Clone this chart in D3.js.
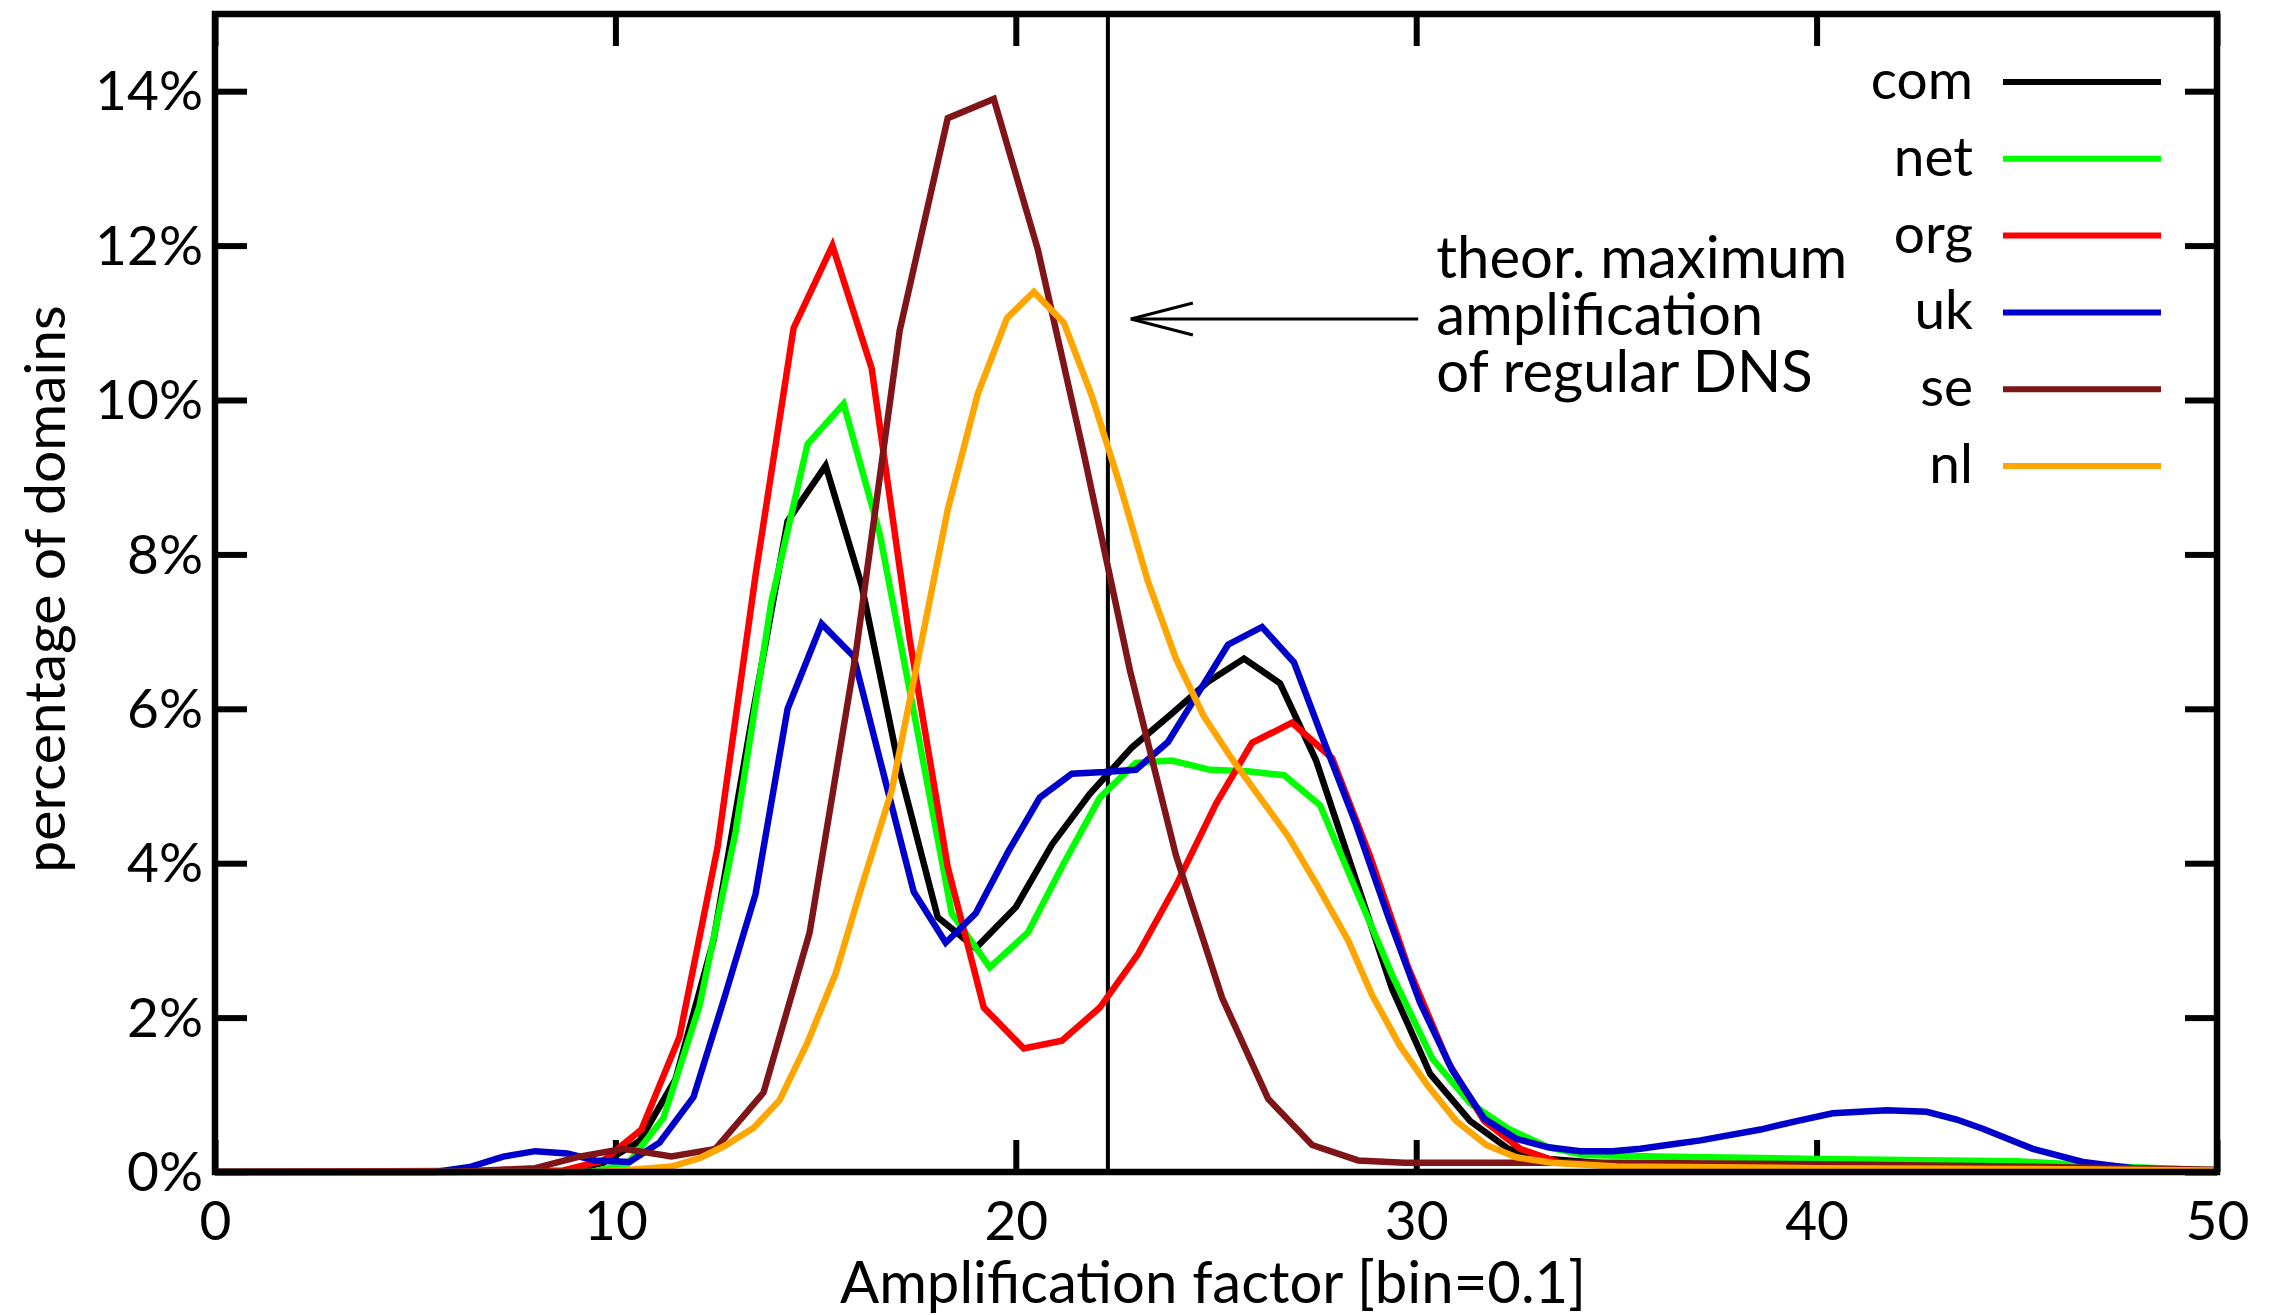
<!DOCTYPE html>
<html>
<head>
<meta charset="utf-8">
<script src="https://cdn.jsdelivr.net/npm/d3@7"></script>
<style>
  body { margin: 0; background: #fff; }
  svg text { font-family: Lato, "Open Sans", sans-serif; fill: #000; }
</style>
</head>
<body>
<svg id="chart" width="2280" height="1315"></svg>
<script>
// amplification factor histogram, one series per TLD
const seriesNames = ["com", "net", "org", "uk", "se", "nl"];
const seriesColors = ["#000000", "#00ff00", "#ff0000", "#0000cc", "#7f1518", "#ffa500"];

const com = [[0,0],[8.7,0],[9.7,0.12],[10.6,0.4],[11.5,1.2],[12.45,3.0],[13.35,5.7],[14.3,8.43],[15.25,9.15],[16.15,7.6],[17.1,5.2],[18.05,3.3],[19.0,2.9],[20.0,3.43],[20.9,4.24],[21.85,4.9],[22.9,5.5],[23.9,5.94],[24.8,6.35],[25.7,6.65],[26.6,6.33],[27.5,5.33],[28.4,3.93],[29.4,2.37],[30.35,1.27],[31.35,0.66],[32.3,0.3],[33.3,0.17],[35,0.1],[40,0.07],[45,0.05],[50,0.02]];
const net = [[0,0],[9.4,0],[10.3,0.1],[11.2,0.7],[12.1,2.15],[13.0,4.4],[13.9,7.4],[14.8,9.43],[15.7,9.95],[16.6,8.27],[17.5,5.83],[18.4,3.35],[19.35,2.65],[20.3,3.1],[21.2,4.0],[22.1,4.85],[23.0,5.3],[23.9,5.33],[24.85,5.21],[25.8,5.19],[26.7,5.14],[27.6,4.75],[28.5,3.65],[29.4,2.55],[30.4,1.47],[31.35,0.89],[32.3,0.56],[33.3,0.32],[34.2,0.22],[36,0.2],[40,0.17],[45,0.14],[47,0.08],[50,0.02]];
const org = [[0,0],[8.7,0.02],[9.7,0.15],[10.65,0.55],[11.6,1.75],[12.55,4.2],[13.5,7.73],[14.45,10.93],[15.42,12.0],[16.4,10.41],[17.35,6.9],[18.3,3.95],[19.2,2.13],[20.2,1.6],[21.15,1.7],[22.1,2.13],[23.05,2.82],[24.0,3.71],[25.0,4.77],[25.9,5.56],[26.9,5.82],[27.9,5.36],[28.85,4.09],[29.8,2.65],[30.8,1.42],[31.7,0.66],[32.6,0.3],[33.6,0.12],[35,0.09],[40,0.06],[45,0.04],[50,0.01]];
const uk = [[0,0],[5.5,0],[6.4,0.07],[7.2,0.2],[8.0,0.27],[8.8,0.24],[9.5,0.15],[10.35,0.13],[11.1,0.38],[11.95,0.97],[12.7,2.22],[13.5,3.6],[14.3,6.0],[15.15,7.1],[15.95,6.68],[16.7,5.15],[17.45,3.63],[18.25,2.97],[19.0,3.35],[19.8,4.14],[20.6,4.85],[21.4,5.16],[22.2,5.18],[23.0,5.21],[23.8,5.57],[24.55,6.2],[25.3,6.83],[26.15,7.06],[26.95,6.6],[27.7,5.57],[28.5,4.5],[29.3,3.31],[30.1,2.19],[30.9,1.32],[31.7,0.69],[32.5,0.43],[33.3,0.32],[34.1,0.27],[34.9,0.27],[35.6,0.3],[36.4,0.36],[37.1,0.41],[38.6,0.55],[39.5,0.66],[40.4,0.76],[41.75,0.8],[42.75,0.78],[43.5,0.68],[44.15,0.56],[45.4,0.3],[46.65,0.13],[47.9,0.05],[50,0]];
const se = [[0,0],[6.0,0],[8.0,0.05],[9.1,0.2],[10.2,0.3],[11.4,0.2],[12.5,0.3],[13.7,1.03],[14.85,3.1],[16.0,6.7],[17.1,10.9],[18.3,13.65],[19.45,13.9],[20.55,11.95],[21.7,9.3],[22.85,6.5],[24.0,4.1],[25.15,2.26],[26.3,0.95],[27.4,0.35],[28.55,0.15],[29.7,0.12],[35,0.12],[40,0.1],[45,0.07],[50,0.03]];
const nl = [[0,0],[9.6,0],[10.4,0.03],[11.4,0.07],[12.1,0.18],[12.7,0.33],[13.45,0.57],[14.1,0.93],[14.8,1.68],[15.5,2.57],[16.2,3.78],[16.9,4.94],[17.6,6.75],[18.3,8.58],[19.05,10.08],[19.78,11.06],[20.45,11.4],[21.2,11.0],[21.9,10.05],[22.6,8.9],[23.3,7.65],[24.0,6.65],[24.7,5.9],[25.4,5.35],[26.1,4.85],[26.8,4.35],[27.5,3.74],[28.3,3.0],[28.9,2.29],[29.6,1.63],[30.3,1.11],[31.0,0.66],[31.75,0.35],[32.5,0.19],[33.4,0.12],[35,0.07],[40,0.05],[45,0.04],[50,0.02]];
const seriesData = [com, net, org, uk, se, nl];

const xTicks = [0, 10, 20, 30, 40, 50];
const yTicks = [0, 2, 4, 6, 8, 10, 12, 14];
const theorMax = 22.3;
const noteLines = ["theor. maximum", "amplification", "of regular DNS"];

const W = 2280, H = 1315;
const margin = {top: 14, right: 63, bottom: 143, left: 215};
const fs = 55;   // tick + legend labels
const fsT = 58;  // titles + note

let svg = d3.select("#chart");

let x = d3.scaleLinear().domain([0, 50]).range([margin.left, W - margin.right]);
let y = d3.scaleLinear().domain([0, 15]).range([H - margin.bottom, margin.top]);

let tickLen = 32;

// axes: ticks inside the frame, mirrored
svg.append("g")
  .attr("transform", `translate(0,${y(0)})`)
  .call(d3.axisBottom(x).tickValues(xTicks).tickSizeInner(-tickLen).tickSizeOuter(0).tickPadding(16))
  .call(g => g.select(".domain").remove())
  .call(g => g.selectAll("text").attr("font-size", fs).attr("font-family", null).attr("dy", "0.95em"));

svg.append("g")
  .attr("transform", `translate(0,${y(15)})`)
  .call(d3.axisTop(x).tickValues(xTicks).tickSizeInner(-tickLen).tickSizeOuter(0))
  .call(g => g.select(".domain").remove())
  .call(g => g.selectAll("text").remove());

svg.append("g")
  .attr("transform", `translate(${x(0)},0)`)
  .call(d3.axisLeft(y).tickValues(yTicks).tickFormat(d => d + "%").tickSizeInner(-tickLen).tickSizeOuter(0).tickPadding(12))
  .call(g => g.select(".domain").remove())
  .call(g => g.selectAll("text").attr("font-size", fs).attr("font-family", null).attr("dy", "0.34em"));

svg.append("g")
  .attr("transform", `translate(${x(50)},0)`)
  .call(d3.axisRight(y).tickValues(yTicks).tickSizeInner(-tickLen).tickSizeOuter(0))
  .call(g => g.select(".domain").remove())
  .call(g => g.selectAll("text").remove());

svg.selectAll(".tick line").attr("stroke", "#000").attr("stroke-width", 6);

// theoretical maximum marker
svg.append("line")
  .attr("x1", x(theorMax)).attr("x2", x(theorMax))
  .attr("y1", y(15)).attr("y2", y(0))
  .attr("stroke", "#000").attr("stroke-width", 4);

// curves
let line = d3.line().x(d => x(d[0])).y(d => y(d[1]));

svg.append("g")
  .selectAll("path")
  .data(seriesData).enter()
  .append("path")
  .attr("d", line)
  .attr("fill", "none")
  .attr("stroke", (d, i) => seriesColors[i])
  .attr("stroke-width", 6.5)
  .attr("stroke-linejoin", "miter");

// frame
svg.append("rect")
  .attr("x", x(0)).attr("y", y(15))
  .attr("width", x(50) - x(0)).attr("height", y(0) - y(15))
  .attr("fill", "none").attr("stroke", "#000").attr("stroke-width", 6.5);

// annotation arrow
let arrowY = y(11.05);
let tipX = x(theorMax) + 23, tailX = x(30.05);
svg.append("line")
  .attr("x1", tipX).attr("x2", tailX).attr("y1", arrowY).attr("y2", arrowY)
  .attr("stroke", "#000").attr("stroke-width", 3);
svg.append("path")
  .attr("d", `M${tipX + 62},${arrowY - 16} L${tipX},${arrowY} L${tipX + 62},${arrowY + 16}`)
  .attr("fill", "none").attr("stroke", "#000").attr("stroke-width", 3);

svg.append("g")
  .selectAll("text")
  .data(noteLines).enter()
  .append("text")
  .attr("x", x(30.5))
  .attr("y", (d, i) => y(11.58) + i * 57)
  .attr("font-size", fsT)
  .text(d => d);

// legend
let legend = svg.append("g")
  .selectAll("g")
  .data(seriesNames).enter()
  .append("g")
  .attr("transform", (d, i) => `translate(0,${82 + i * 76.8})`);

legend.append("text")
  .attr("x", 1973).attr("y", 17)
  .attr("text-anchor", "end")
  .attr("font-size", fs)
  .text(d => d);

legend.append("line")
  .attr("x1", 2003).attr("x2", 2161)
  .attr("stroke", (d, i) => seriesColors[i])
  .attr("stroke-width", 6);

// axis titles
svg.append("text")
  .attr("x", (x(0) + x(50)) / 2 - 3)
  .attr("y", 1303)
  .attr("text-anchor", "middle")
  .attr("font-size", fsT)
  .text("Amplification factor [bin=0.1]");

svg.append("text")
  .attr("transform", `translate(65,${589}) rotate(-90)`)
  .attr("text-anchor", "middle")
  .attr("font-size", 57)
  .text("percentage of domains");
</script>
</body>
</html>
